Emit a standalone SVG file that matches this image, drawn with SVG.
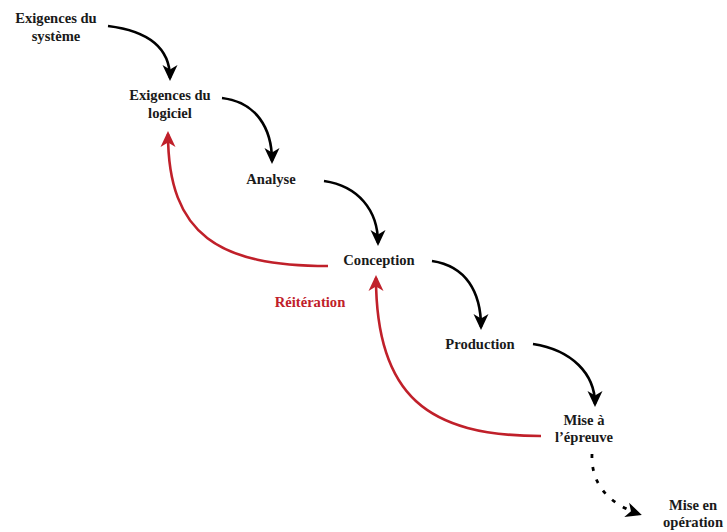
<svg xmlns="http://www.w3.org/2000/svg" width="727" height="532" viewBox="0 0 727 532">
<defs>
<style>
.t{font-family:"Liberation Serif","DejaVu Serif",serif;font-weight:bold;font-size:14.6px;fill:#1a1a1a;text-anchor:middle}
.r{fill:#c0202a}
.k{fill:none;stroke:#000;stroke-width:2.6}
.red{fill:none;stroke:#c0202a;stroke-width:2.6}
.dot{fill:none;stroke:#000;stroke-width:2.8;stroke-dasharray:4 9}
</style>
<marker id="ak" markerUnits="userSpaceOnUse" viewBox="-2 -9 20 18" refX="13" refY="0" markerWidth="20" markerHeight="18" orient="auto">
<path d="M0,-7.5 L16,0 L0,7.5 L4.5,0 Z" fill="#000"/>
</marker>
<marker id="ar" markerUnits="userSpaceOnUse" viewBox="-2 -9 20 18" refX="13" refY="0" markerWidth="20" markerHeight="18" orient="auto">
<path d="M0,-7.5 L16,0 L0,7.5 L4.5,0 Z" fill="#c0202a"/>
</marker>
</defs>
<rect width="727" height="532" fill="#fff"/>
<g id="connectors">
<path class="k" d="M108,26 C148,31 170,48 170,78" marker-end="url(#ak)"/>
<path class="k" d="M222,98 C256,102 272,128 272,161" marker-end="url(#ak)"/>
<path class="k" d="M324,181 C358,186 378,210 378,243" marker-end="url(#ak)"/>
<path class="k" d="M432,261 C466,266 481,292 481,327" marker-end="url(#ak)"/>
<path class="k" d="M533,344 C572,350 595,374 595,404" marker-end="url(#ak)"/>
<path class="dot" d="M592,454 C591,480 604,502 639,514" marker-end="url(#ak)"/>
<path class="red" d="M328,266 C220,266 168,236 168,134" marker-end="url(#ar)"/>
<path class="red" d="M541,436 C428,436 376,396 376,278" marker-end="url(#ar)"/>
</g>
<g id="n1"><text class="t" x="56" y="23">Exigences du</text><text class="t" x="56" y="41">système</text></g>
<g id="n2"><text class="t" x="170" y="100">Exigences du</text><text class="t" x="170" y="118">logiciel</text></g>
<g id="n3"><text class="t" x="271" y="184">Analyse</text></g>
<g id="n4"><text class="t" x="379" y="265">Conception</text></g>
<g id="n5"><text class="t" x="480" y="349">Production</text></g>
<g id="n6"><text class="t" x="584" y="425">Mise à</text><text class="t" x="584" y="442">l’épreuve</text></g>
<g id="n7"><text class="t" x="693" y="510">Mise en</text><text class="t" x="693" y="527">opération</text></g>
<g id="lbl"><text class="t r" x="310" y="307">Réitération</text></g>
</svg>
